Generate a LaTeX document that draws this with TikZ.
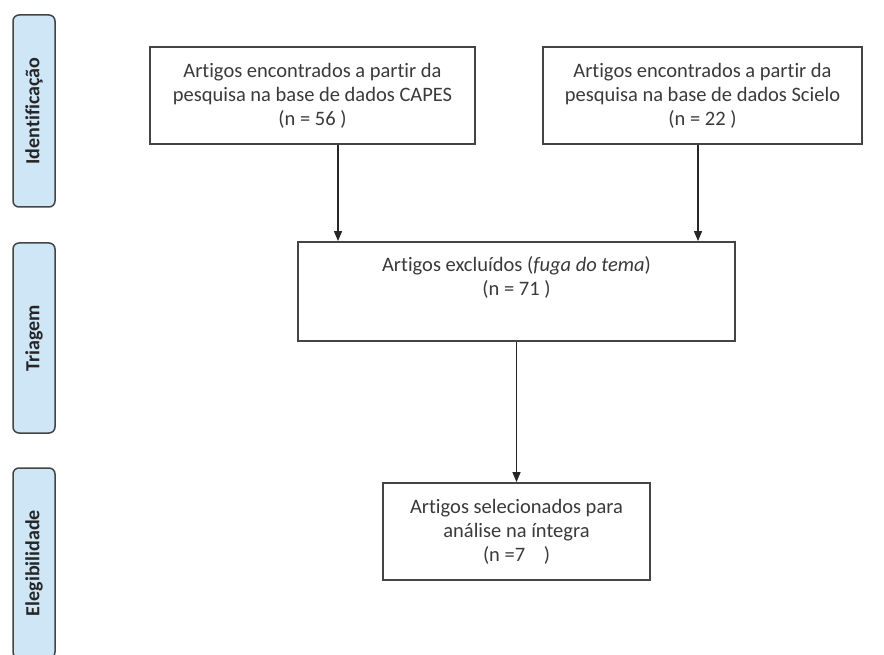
\documentclass[tikz,border=0pt]{standalone}
\usepackage{fontspec}
\setmainfont[Ligatures=NoCommon]{Carlito}
\usetikzlibrary{arrows.meta,positioning}
\definecolor{texto}{HTML}{3A3A3A}
\definecolor{borda}{HTML}{444444}
\definecolor{azulfase}{HTML}{CFE6F7}
\tikzset{
  caixa/.style={draw=borda,line width=1.8pt,fill=white,align=center,text=texto,
    font=\fontsize{20.5}{24}\selectfont,inner sep=0pt},
  fase/.style={draw=borda,line width=1.5pt,fill=azulfase,rounded corners=6pt,rotate=90,
    minimum height=42pt,text=black!85,font=\fontsize{20}{22}\selectfont\bfseries},
  seta/.style={draw=black!85,line width=1.4pt,-{Triangle[length=10pt,width=8pt]}}
}
\begin{document}
\begin{tikzpicture}[x=1pt,y=-1pt]
\useasboundingbox (0,0) rectangle (884,655);
\clip (0,0) rectangle (884,655);
% fases
\node[fase,minimum width=192pt] (ident) at (34,111) {Identificação};
\node[fase,minimum width=190pt] (triag) at (34,338) {Triagem};
\node[fase,minimum width=190pt] (eleg) at (34,563) {Elegibilidade};
% caixas
\node[caixa,minimum width=325pt,minimum height=97pt] (capes) at (312.5,95.5)
  {Artigos encontrados a partir da\\pesquisa na base de dados CAPES\\(n = 56 )};
\node[caixa,minimum width=319pt,minimum height=97pt] (scielo) at (702.5,95.5)
  {Artigos encontrados a partir da\\pesquisa na base de dados Scielo\\(n = 22 )};
\node[caixa,minimum width=437pt,minimum height=99pt] (excl) at (516.5,291.5)
  {Artigos excluídos (\textit{fuga do tema})\\(n = 71 )\\\strut};
\node[caixa,minimum width=267pt,minimum height=97pt] (selec) at (516.5,531.5)
  {Artigos selecionados para\\análise na íntegra\\(n =7\ \ \ \ )};
% setas
\draw[seta] ([xshift=25.5pt]capes.south) -- ([xshift=25.5pt]capes.south |- excl.north);
\draw[seta] ([xshift=-4.5pt]scielo.south) -- ([xshift=-4.5pt]scielo.south |- excl.north);
\draw[seta] (excl.south) -- (selec.north);
\end{tikzpicture}
\end{document}
